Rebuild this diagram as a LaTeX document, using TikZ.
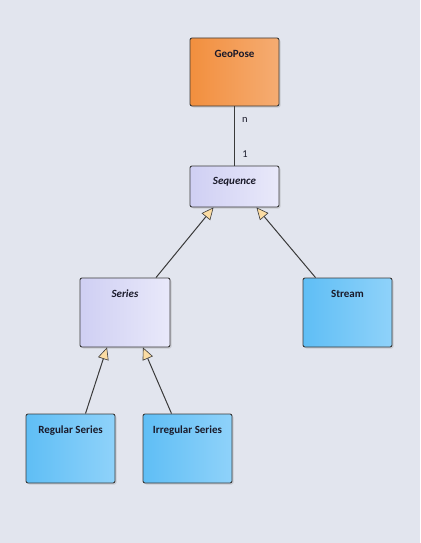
\documentclass[tikz,border=0pt]{standalone}
\usepackage{fontspec}
\setmainfont{Carlito}
\usetikzlibrary{arrows.meta,shadows}
\definecolor{bg}{HTML}{E2E5EE}
\definecolor{edge}{HTML}{3A3A3A}
\definecolor{orL}{HTML}{F28F3E}
\definecolor{orR}{HTML}{F5AC72}
\definecolor{lvL}{HTML}{CFCFF3}
\definecolor{lvR}{HTML}{E9E9FA}
\definecolor{blL}{HTML}{5FBEF5}
\definecolor{blR}{HTML}{8FD2FA}
\definecolor{tip}{HTML}{FBDCA3}
\definecolor{txt}{HTML}{1A1A2A}
\tikzset{
  box/.style={draw=edge, line width=0.9pt, rounded corners=2pt, minimum width=89pt, inner sep=0pt,
     drop shadow={shadow xshift=1.5pt, shadow yshift=-1.5pt, opacity=0.25}},
  orbox/.style={box, left color=orL, right color=orR},
  lvbox/.style={box, left color=lvL, right color=lvR},
  blbox/.style={box, left color=blL, right color=blR},
  ttl/.style={anchor=base, inner sep=0pt, font=\fontsize{11}{13}\selectfont\bfseries, text=txt},
  itl/.style={ttl, font=\fontsize{11}{13}\selectfont\bfseries\itshape},
  conn/.style={draw=edge, line width=1pt},
  gen/.style={conn, -{Triangle[length=12pt, width=11pt, fill=tip, line width=0.6pt]}},
  mult/.style={font=\fontsize{10.5}{12}\selectfont, text=txt}
}
\begin{document}
\begin{tikzpicture}[x=1pt,y=-1pt]
\fill[bg] (0,0) rectangle (420,543);
\useasboundingbox (0,0) rectangle (420,543);
\node[orbox, minimum height=68pt] (geo) at (234.5,72) {};
\node[lvbox, minimum height=41pt] (seq) at (234.5,186.5) {};
\node[lvbox, minimum height=69pt, minimum width=90pt] (ser) at (125,312.5) {};
\node[blbox, minimum height=69pt] (str) at (347.5,312.5) {};
\node[blbox, minimum height=69pt] (reg) at (70.5,448.5) {};
\node[blbox, minimum height=69pt] (irr) at (187.5,448.5) {};
\node[ttl] (geoT) at ([yshift=-19.5pt]geo.north) {GeoPose};
\node[itl] (seqT) at ([yshift=-19pt]seq.north) {Sequence};
\node[itl] (serT) at ([yshift=-19.5pt]ser.north) {Series};
\node[ttl] (strT) at ([yshift=-19.5pt]str.north) {Stream};
\node[ttl] (regT) at ([yshift=-19.5pt]reg.north) {Regular Series};
\node[ttl] (irrT) at ([yshift=-19.5pt]irr.north) {Irregular Series};
\draw[conn] (geo.south) -- (seq.north);
\node[mult] (mn) at (245,119.5) {n};
\node[mult] (m1) at (245,154) {1};
\draw[gen] ([xshift=31pt]ser.north) -- ([xshift=-21pt]seq.south);
\draw[gen] ([xshift=-32pt]str.north) -- ([xshift=22pt]seq.south);
\draw[gen] ([xshift=15pt]reg.north) -- ([xshift=-18pt]ser.south);
\draw[gen] ([xshift=-16pt]irr.north) -- ([xshift=18pt]ser.south);
\end{tikzpicture}
\end{document}
